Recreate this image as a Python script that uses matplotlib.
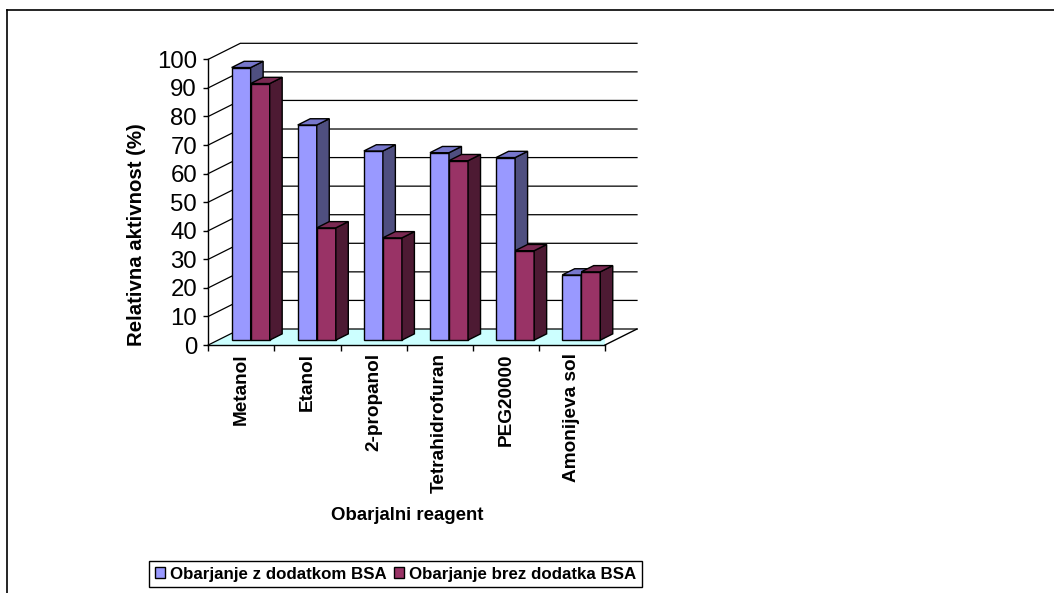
import numpy as np
import matplotlib
matplotlib.use("Agg")
import matplotlib.pyplot as plt
from matplotlib.patches import Polygon, Patch
from matplotlib.lines import Line2D

plt.rcParams['font.family'] = ['Liberation Sans', 'DejaVu Sans']

categories = ['Metanol', 'Etanol', '2-propanol', 'Tetrahidrofuran', 'PEG20000', 'Amonijeva sol']
with_bsa = [95.4, 75.3, 66.2, 65.6, 63.9, 22.8]
without_bsa = [89.8, 39.3, 35.8, 62.8, 31.3, 23.9]
series_names = ['Obarjanje z dodatkom BSA', 'Obarjanje brez dodatka BSA']
yticks = list(range(0, 101, 10))

# face colours: front, side, top
blue = ('#9999FF', '#4F4F80', '#7777CC')
red = ('#993366', '#4D1A33', '#7A2952')
floor_col = '#CCFFFF'

W, H = 1054, 593
fig = plt.figure(figsize=(W / 100, H / 100), dpi=100)

# front plane of the 3d box
x0px, x1px, y0px, y1px = 208.3, 605.0, 345.0, 59.3
ax = fig.add_axes([x0px / W, 1 - y0px / H, (x1px - x0px) / W, (y0px - y1px) / H])
ax.set_facecolor('none')
ncat = len(categories)
ax.set_xlim(0, ncat)
ax.set_ylim(0, 100)

# depth vector of the box (32 px right, 16 px up)
DX = 32 / ((x1px - x0px) / ncat)
DY = 16 / ((y0px - y1px) / 100)

# floor
ax.add_patch(Polygon([(0, 0), (ncat, 0), (ncat + DX, DY), (DX, DY)],
                     closed=True, facecolor=floor_col, edgecolor='none', zorder=1))
ax.plot([ncat, ncat + DX], [0, DY], color='black', lw=1, zorder=2, clip_on=False)

# gridlines on left and back walls
for v in yticks:
    ax.plot([0, DX, ncat + DX], [v, v + DY, v + DY], color='black', lw=0.9,
            zorder=2, clip_on=False)

# bars
bw = 0.288
z0, z1 = 0.305, 0.695
for i in range(ncat):
    for s, (vals, cols) in enumerate([(with_bsa, blue), (without_bsa, red)]):
        v = vals[i]
        xl = i + 0.205 + s * bw
        xr = xl + bw
        fx, fy = z0 * DX, z0 * DY
        bx, by = z1 * DX, z1 * DY
        front = [(xl + fx, fy), (xr + fx, fy), (xr + fx, v + fy), (xl + fx, v + fy)]
        side = [(xr + fx, fy), (xr + bx, by), (xr + bx, v + by), (xr + fx, v + fy)]
        top = [(xl + fx, v + fy), (xr + fx, v + fy), (xr + bx, v + by), (xl + bx, v + by)]
        for poly, c in zip([front, side, top], cols):
            ax.add_patch(Polygon(poly, closed=True, facecolor=c, edgecolor='black',
                                 lw=1, joinstyle='miter', zorder=3, clip_on=False))

for sp in ['top', 'right']:
    ax.spines[sp].set_visible(False)
ax.spines['left'].set_linewidth(1)
ax.spines['bottom'].set_linewidth(1)
ax.spines['left'].set_zorder(4)
ax.spines['bottom'].set_zorder(4)

ax.set_yticks(yticks)
ax.set_yticklabels([str(t) for t in yticks], fontsize=17.3)
ax.tick_params(axis='y', direction='out', length=3.6, width=1, pad=4.5)

ax.set_xticks(np.arange(ncat + 1))
ax.set_xticklabels([])
ax.tick_params(axis='x', which='major', direction='out', length=4.5, width=1)
ax.set_xticks(np.arange(ncat) + 0.5, minor=True)
ax.set_xticklabels(categories, minor=True, rotation=90, fontsize=13.7,
                   fontweight='bold')
ax.tick_params(axis='x', which='minor', length=0, pad=5.8)

fig.text(136 / W, 1 - 235 / H, 'Relativna aktivnost (%)', rotation=90,
         ha='center', va='center', fontsize=14.7, fontweight='bold')
fig.text(407 / W, 1 - 515 / H, 'Obarjalni reagent', ha='center', va='center',
         fontsize=13.4, fontweight='bold')

handles = [Patch(facecolor=blue[0], edgecolor='black', lw=1),
           Patch(facecolor=red[0], edgecolor='black', lw=1)]
leg = fig.legend(handles, series_names, loc='center', ncol=2,
                 bbox_to_anchor=(395.5 / W, 1 - 574 / H),
                 prop={'size': 12.2, 'weight': 'bold'}, frameon=True,
                 fancybox=False, edgecolor='black', framealpha=1,
                 handlelength=0.6, handleheight=0.6, handletextpad=0.3,
                 columnspacing=0.4, borderpad=0.35, borderaxespad=0)
leg.get_frame().set_linewidth(1)

# chart area border (top and left edges visible)
fig.add_artist(Line2D([7 / W, 1], [1 - 10 / H, 1 - 10 / H], color='black', lw=1.2))
fig.add_artist(Line2D([7 / W, 7 / W], [0, 1 - 10 / H], color='black', lw=1.2))

fig.savefig('out.png', dpi=100)
